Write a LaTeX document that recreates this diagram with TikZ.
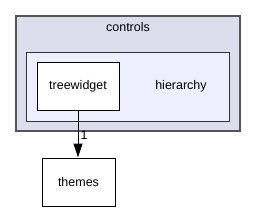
\documentclass[tikz,border=0pt]{standalone}
\usepackage{fontspec}
\setmainfont{Liberation Sans}
\usetikzlibrary{arrows.meta}
\definecolor{outerfill}{HTML}{DDDDEE}
\definecolor{innerfill}{HTML}{EEEEFF}
\definecolor{outerline}{HTML}{555555}
\begin{document}
\begin{tikzpicture}[x=1pt,y=-1pt,
  lbl/.style={font=\fontsize{12.5}{14}\selectfont, inner sep=0pt},
  dirbox/.style={draw=black, fill=white, line width=1pt}]
\useasboundingbox (0,0) rectangle (256,212);
\draw[draw=outerline, fill=outerfill, line width=1.6pt] (16,16) rectangle (240,131);
\node[lbl] (controls) at (128,27) {controls};
\draw[draw=black!80, fill=innerfill, line width=1pt] (26.5,52) rectangle (229,121);
\node[lbl] (hierarchy) at (181,86) {hierarchy};
\node[dirbox, minimum width=82pt, minimum height=48pt, lbl, draw=black, line width=1pt] (tw) at (78,86) {treewidget};
\node[dirbox, minimum width=73pt, minimum height=48pt, lbl, line width=1pt] (themes) at (78.5,182) {themes};
\draw[line width=1pt, -{Triangle[length=14pt,width=9pt]}] (tw.south -| 78,0) -- (themes.north -| 78,0) node[lbl, pos=0.52, right=2pt] (one) {1};
\end{tikzpicture}
\end{document}
